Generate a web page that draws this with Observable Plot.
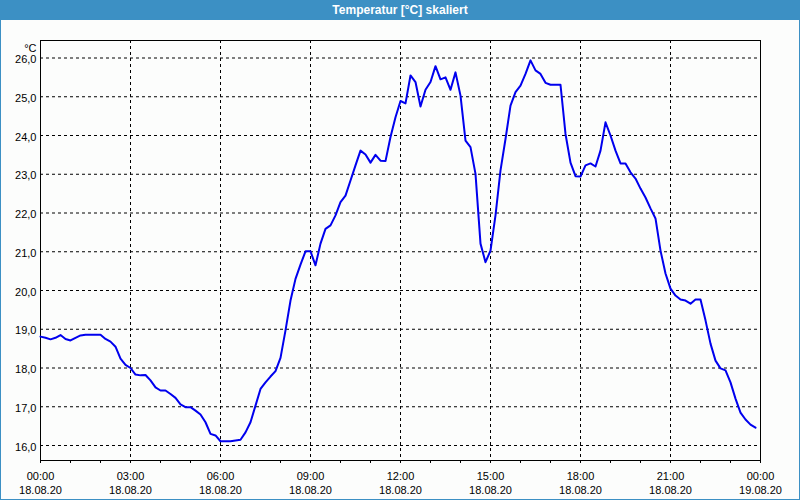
<!DOCTYPE html>
<html><head><meta charset="utf-8">
<script src="https://cdn.jsdelivr.net/npm/d3@7"></script>
<script src="https://cdn.jsdelivr.net/npm/@observablehq/plot@0.6"></script>
<style>
html,body{margin:0;padding:0;background:#fcfdfc;}
#wrap{position:relative;width:800px;height:500px;background:#fcfdfc;overflow:hidden;font-family:"Liberation Sans",Arial,sans-serif;}
#title{height:20px;background:#3c90c4;color:#fff;font-weight:bold;font-size:12px;line-height:20px;text-align:center;}
#chart svg{display:block;}
#border{position:absolute;left:0;top:0;width:800px;height:500px;box-sizing:border-box;border:1px solid #3c90c4;pointer-events:none;}
</style></head><body>
<div id="wrap"><div id="title">Temperatur [°C] skaliert</div><div id="chart"></div><div id="border"></div></div>
<script>
// Temperature samples every 10 minutes, 18.08.20 00:00 to 23:50
const sampleMinutes = 10;
const temps = [
 18.81,18.78,18.74,18.78,18.85,18.75,18.71,18.78,18.84,18.86,18.86,18.86,
 18.86,18.75,18.68,18.55,18.24,18.08,18.00,17.83,17.81,17.82,17.68,17.50,
 17.42,17.42,17.33,17.23,17.06,16.99,16.99,16.90,16.80,16.60,16.30,16.26,
 16.11,16.11,16.11,16.13,16.15,16.34,16.60,17.03,17.46,17.63,17.78,17.92,
 18.26,18.97,19.74,20.30,20.67,21.01,21.01,20.65,21.21,21.59,21.68,21.94,
 22.28,22.45,22.84,23.23,23.61,23.51,23.30,23.50,23.35,23.34,23.96,24.47,
 24.89,24.83,25.55,25.38,24.75,25.18,25.38,25.79,25.45,25.50,25.18,25.63,
 25.03,23.87,23.70,23.01,21.21,20.73,21.03,21.94,23.10,23.91,24.77,25.12,
 25.29,25.59,25.94,25.68,25.59,25.36,25.31,25.31,25.31,24.04,23.30,22.95,
 22.94,23.23,23.28,23.20,23.61,24.34,24.00,23.61,23.28,23.28,23.05,22.89,
 22.63,22.40,22.12,21.86,21.03,20.44,20.05,19.87,19.77,19.74,19.66,19.77,
 19.77,19.23,18.63,18.19,17.99,17.94,17.63,17.21,16.85,16.67,16.54,16.46
];
const xTickHours = [0,3,6,9,12,15,18,21,24];
const minorTickHours = [0,1,2,3,4,5,6,7,8,9,10,11,12,13,14,15,16,17,18,19,20,21,22,23,24];
const timeLabels = ["00:00","03:00","06:00","09:00","12:00","15:00","18:00","21:00","00:00"];
const dateLabels = ["18.08.20","18.08.20","18.08.20","18.08.20","18.08.20","18.08.20","18.08.20","18.08.20","19.08.20"];
const yTicks = [16,17,18,19,20,21,22,23,24,25,26];
const yLabels = ["16,0","17,0","18,0","19,0","20,0","21,0","22,0","23,0","24,0","25,0","26,0"];
const yDomain = [15.613, 26.452];

const start = Date.UTC(2020,7,18,0,0);
const hourDate = h => new Date(start + h*3600000);
const data = temps.map((t,i)=>({time:new Date(start + i*sampleMinutes*60000), temp:t}));
const majorTimes = xTickHours.map(hourDate);
const minorTimes = minorTickHours.map(hourDate);

const chart = Plot.plot({
  width:800, height:480,
  marginTop:20, marginBottom:40, marginLeft:40, marginRight:40,
  style:{background:"transparent", fontFamily:"'Liberation Sans', Arial, sans-serif", fontSize:"11px", color:"#000"},
  x:{type:"utc", domain:[hourDate(0), hourDate(24)], axis:null},
  y:{domain:yDomain, axis:null},
  marks:[
    Plot.ruleY(yTicks,{stroke:"#000", strokeDasharray:"3,3"}),
    Plot.ruleX(majorTimes,{stroke:"#000", strokeDasharray:"3,3"}),
    Plot.frame({stroke:"#000"}),
    Plot.ruleX(minorTimes,{y1:yDomain[0], y2:yDomain[0]-3/38.75, stroke:"#000", clip:false}),
    Plot.lineY(data,{x:"time", y:"temp", stroke:"#0000ee", strokeWidth:2}),
    Plot.text(yTicks,{x:hourDate(0), y:d=>d, text:(d,i)=>yLabels[i], textAnchor:"end", dx:-4, dy:1.5, fill:"#000"}),
    Plot.text(majorTimes,{x:d=>d, y:yDomain[0], text:(d,i)=>timeLabels[i], dy:15.5, fill:"#000"}),
    Plot.text(majorTimes,{x:d=>d, y:yDomain[0], text:(d,i)=>dateLabels[i], dy:30, fill:"#000"}),
    Plot.text(["°C"],{frameAnchor:"top-left", text:d=>d, textAnchor:"end", dx:-4, dy:4, fill:"#000"})
  ]
});
document.getElementById("chart").appendChild(chart);
</script>
</body></html>
